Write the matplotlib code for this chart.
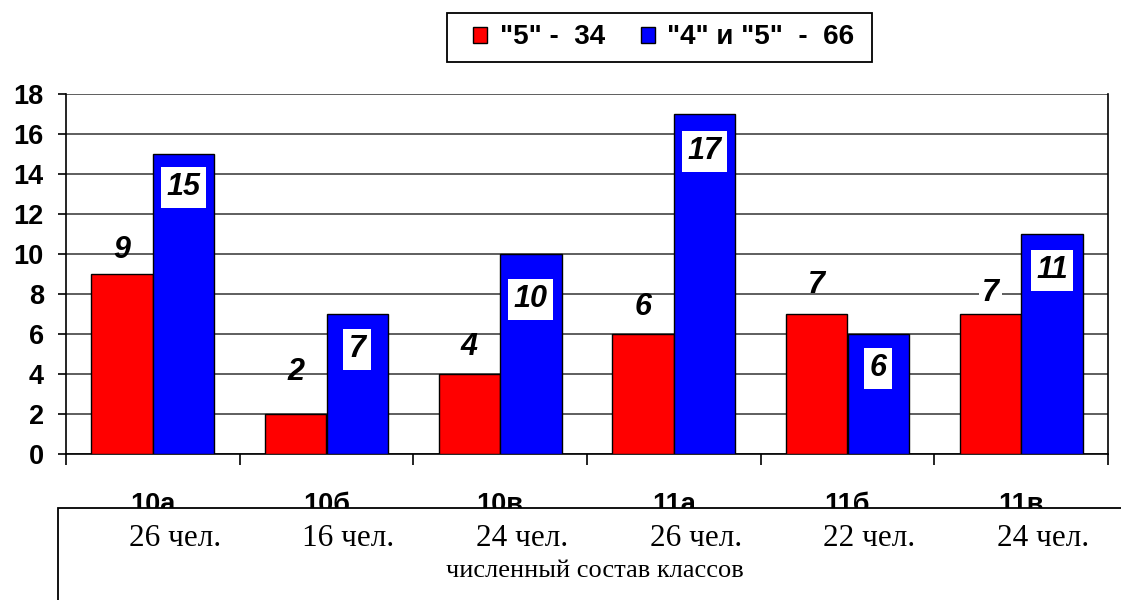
import matplotlib
matplotlib.use('Agg')
import matplotlib.pyplot as plt
from matplotlib.patches import Patch, Rectangle
import numpy as np

# data
classes = ['10а', '10б', '10в', '11а', '11б', '11в']
pupils = ['26 чел.', '16 чел.', '24 чел.', '26 чел.', '22 чел.', '24 чел.']
only_fives = [9, 2, 4, 6, 7, 7]
fours_fives = [15, 7, 10, 17, 6, 11]
legend_labels = ['"5" -  34', '"4" и "5"  -  66']
footer = 'численный состав классов'

# label placement (pixels above / below the bar top)
red_offsets = [24, 42, 27, 27, 29, 21]
blue_offsets = [33, 35, 45, 37, 34, 36]

W, H = 1121, 600
fig = plt.figure(figsize=(W / 100, H / 100), dpi=100)
ax = fig.add_axes([66 / W, 1 - 454 / H, (1108 - 66) / W, 360 / H])

sans = 'Liberation Sans'
serif = 'Liberation Serif'

x = np.arange(len(classes))
w = 0.355
ax.bar(x - w / 2, only_fives, w, color='#ff0000', edgecolor='black', linewidth=1, zorder=3)
ax.bar(x + w / 2, fours_fives, w, color='#0000ff', edgecolor='black', linewidth=1, zorder=3)

ax.set_xlim(-0.5, len(classes) - 0.5)
ax.set_ylim(0, 18)
ax.set_yticks(range(0, 19, 2))
ax.yaxis.grid(True, color='#333333', linewidth=1.1, zorder=0)
ax.set_axisbelow(True)

ax.spines['top'].set_visible(False)
for s in ['left', 'right', 'bottom']:
    ax.spines[s].set_linewidth(1.2)

ax.tick_params(axis='y', direction='out', length=6, width=1.2, pad=10, labelsize=19.5)
for lbl in ax.get_yticklabels():
    lbl.set_fontfamily(sans)
    lbl.set_fontweight('bold')

ax.set_xticks(np.arange(-0.5, len(classes), 1.0))
ax.set_xticklabels([])
ax.tick_params(axis='x', direction='out', length=8, width=1.2)

# category names (partly hidden by the box below)
for i, c in enumerate(classes):
    ax.annotate(c, xy=(i, 0), xycoords=('data', 'axes fraction'),
                xytext=(0, -58), textcoords='offset pixels',
                ha='center', va='baseline', fontsize=19.5, fontweight='bold',
                fontfamily=sans, annotation_clip=False)

# value labels
for i, v in enumerate(only_fives):
    box = None
    if i == len(only_fives) - 1:
        box = dict(boxstyle='square,pad=0.1', facecolor='white', edgecolor='none')
    ax.annotate(str(v), xy=(i - w / 2, v), xytext=(0, red_offsets[i]),
                textcoords='offset pixels', ha='center', va='center',
                fontsize=22, fontweight='bold', fontstyle='italic',
                fontfamily=sans, bbox=box, zorder=5)
for i, v in enumerate(fours_fives):
    ax.annotate(str(v), xy=(i + w / 2, v), xytext=(0, -blue_offsets[i]),
                textcoords='offset pixels', ha='center', va='center',
                fontsize=22, fontweight='bold', fontstyle='italic',
                fontfamily=sans, zorder=5,
                bbox=dict(boxstyle='square,pad=0.18', facecolor='white', edgecolor='none'))

# white box with pupil counts
rect = Rectangle((58 / W, -0.05), 1.0, 0.05 + (1 - 508 / H),
                 transform=fig.transFigure, facecolor='white',
                 edgecolor='black', linewidth=1.3, zorder=5)
fig.add_artist(rect)
for i, p in enumerate(pupils):
    xp = ax.transData.transform((i, 0))[0] + 22
    fig.text(xp / W, 1 - 539 / H, p, ha='center', va='center',
             fontsize=22.5, fontfamily=serif, zorder=6)
fig.text(595 / W, 1 - 571 / H, footer, ha='center', va='center',
         fontsize=19, fontfamily=serif, zorder=6)

# legend with its own frame
frame = Rectangle((447 / W, 1 - 62 / H), 425 / W, 49 / H, transform=fig.transFigure,
                  facecolor='white', edgecolor='black', linewidth=1.3, zorder=1)
fig.add_artist(frame)
handles = [Patch(facecolor='#ff0000', edgecolor='black'),
           Patch(facecolor='#0000ff', edgecolor='black')]
leg = fig.legend(handles, legend_labels, loc='center', bbox_to_anchor=(664 / W, 1 - 37.5 / H),
                 ncol=2, frameon=False,
                 handlelength=0.5, handleheight=0.5, handletextpad=0.45,
                 columnspacing=1.3, borderpad=0.3,
                 prop={'family': sans, 'weight': 'bold', 'size': 20})
leg.set_zorder(2)

fig.savefig('out.png', dpi=100)
